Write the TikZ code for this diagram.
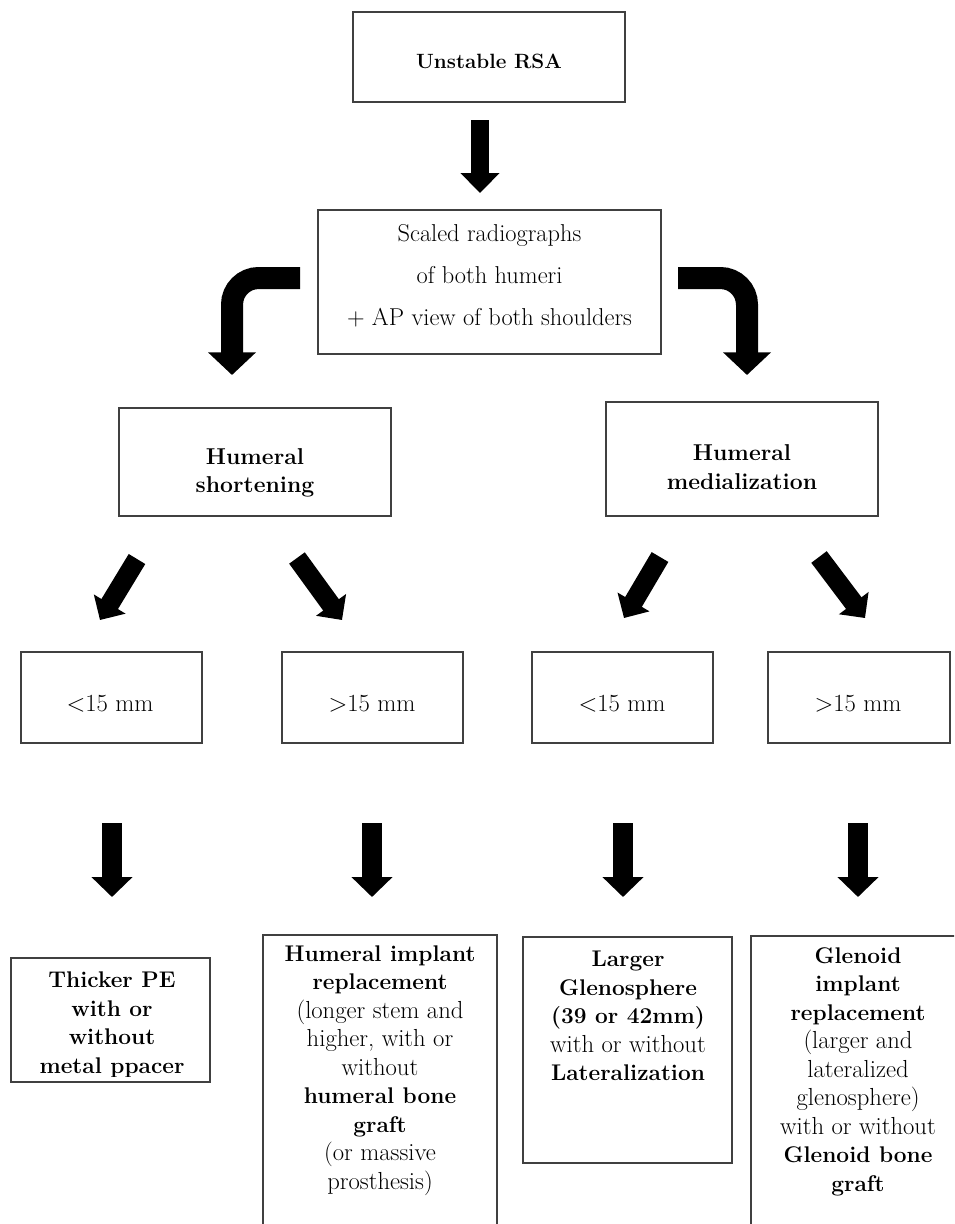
\documentclass[tikz,border=0pt]{standalone}
\usepackage{fontspec}
\usetikzlibrary{arrows.meta}
\newcommand\bt[1]{{\fontsize{17}{21.4}\selectfont\bfseries #1}}
\begin{document}
\begin{tikzpicture}[x=0.75pt,y=-0.75pt,
  box/.style={draw=black!75, line width=1.1pt, inner sep=0pt},
  txt/.style={align=center, inner sep=0pt, text=black, font=\fontsize{18.5}{21.4}\selectfont},
  vblk/.style={draw=black, line width=15pt, -{Triangle[width=30pt,length=15pt]}},
  dblk/.style={draw=black, line width=14.5pt, -{Triangle[width=27pt,length=14pt]}},
  cblk/.style={draw=black, line width=16.5pt, rounded corners=20pt, -{Triangle[width=35pt,length=17pt]}},
 ]
\useasboundingbox (0,0) rectangle (954,1224);
\clip (0,0) rectangle (954,1224);
\fill[white] (0,0) rectangle (954,1224);

% boxes
\node[box, minimum width=204pt, minimum height=67.5pt] (b1) at (489,57) {};
\node[box, minimum width=257.25pt, minimum height=108pt] (b2) at (489.5,282) {};
\node[box, minimum width=204pt, minimum height=81pt] (hs) at (255,462) {};
\node[box, minimum width=204pt, minimum height=85.5pt] (hm) at (742,459) {};
\node[box, minimum width=135.75pt, minimum height=68.25pt] (s1) at (111.5,697.5) {};
\node[box, minimum width=135.75pt, minimum height=68.25pt] (s2) at (372.5,697.5) {};
\node[box, minimum width=135.75pt, minimum height=68.25pt] (s3) at (622.5,697.5) {};
\node[box, minimum width=136.5pt, minimum height=68.25pt] (s4) at (859,697.5) {};
\node[box, minimum width=149.25pt, minimum height=93pt] (r1) at (110.5,1020) {};
\node[box, minimum width=175.5pt, minimum height=228.75pt] (r2) at (380,1087.5) {};
\node[box, minimum width=156.75pt, minimum height=169.5pt] (r3) at (627.5,1050) {};
\node[box, minimum width=164.25pt, minimum height=228pt] (r4) at (860.5,1088) {};

% texts
\node[txt, font=\fontsize{15.5}{19}\selectfont\bfseries] (t1) at (489,61) {Unstable RSA};
\node[txt, font=\fontsize{18.3}{31.5}\selectfont] (t2) at (489.5,276) {Scaled radiographs\\of both humeri\\+ AP view of both shoulders};
\node[txt, font=\fontsize{17.2}{21.4}\selectfont\bfseries] (ths) at (255,473) {Humeral\\shortening};
\node[txt, font=\fontsize{17.2}{21.4}\selectfont\bfseries] (thm) at (742,467) {Humeral\\medialization};
\node[txt] (ts1) at (110,704) {<15 mm};
\node[txt] (ts2) at (372,704) {>15 mm};
\node[txt] (ts3) at (622,704) {<15 mm};
\node[txt] (ts4) at (858,704) {>15 mm};
\begin{scope}
\clip (11,958) rectangle (210,1076);
\node[txt] (tr1) at (112,1025) {\bt{Thicker PE}\\\bt{with or}\\\bt{without}\\\bt{metal ppacer}};
\end{scope}
\node[txt] (tr2) at (380,1070.5) {\bt{Humeral implant}\\\bt{replacement}\\(longer stem and\\higher, with or\\without\\\bt{humeral bone}\\\bt{graft}\\(or massive\\prosthesis)};
\node[txt] (tr3) at (628,1016) {\bt{Larger}\\\bt{Glenosphere}\\\bt{(39 or 42mm)}\\with or without\\\bt{Lateralization}};
\node[txt] (tr4) at (858,1071.5) {\bt{Glenoid}\\\bt{implant}\\\bt{replacement}\\(larger and\\lateralized\\glenosphere)\\with or without\\\bt{Glenoid bone}\\\bt{graft}};

% arrow end points
\coordinate (a1s) at (480,120);  \coordinate (a1e) at (480,193);
\coordinate (cls) at (300,278);  \coordinate (clm) at (232,278);  \coordinate (cle) at (232,375);
\coordinate (crs) at (678,278);  \coordinate (crm) at (747,278);  \coordinate (cre) at (747,375);
\coordinate (d1s) at (137,559);  \coordinate (d1e) at (100,620);
\coordinate (d2s) at (297,558);  \coordinate (d2e) at (342,620);
\coordinate (d3s) at (660,557);  \coordinate (d3e) at (624,618);
\coordinate (d4s) at (819,557);  \coordinate (d4e) at (865,618);
\coordinate (v1s) at (112,823);  \coordinate (v1e) at (112,897);
\coordinate (v2s) at (372,823);  \coordinate (v2e) at (372,897);
\coordinate (v3s) at (623,823);  \coordinate (v3e) at (623,897);
\coordinate (v4s) at (858,823);  \coordinate (v4e) at (858,897);

% arrows
\draw[draw=black, line width=13.5pt, -{Triangle[width=28.5pt,length=15pt]}] (a1s) -- (a1e);
\draw[cblk] (cls) -- (clm) -- (cle);
\draw[cblk] (crs) -- (crm) -- (cre);
\draw[dblk] (d1s) -- (d1e);
\draw[dblk] (d2s) -- (d2e);
\draw[dblk] (d3s) -- (d3e);
\draw[dblk] (d4s) -- (d4e);
\draw[vblk] (v1s) -- (v1e);
\draw[vblk] (v2s) -- (v2e);
\draw[vblk] (v3s) -- (v3e);
\draw[vblk] (v4s) -- (v4e);
\end{tikzpicture}
\end{document}
